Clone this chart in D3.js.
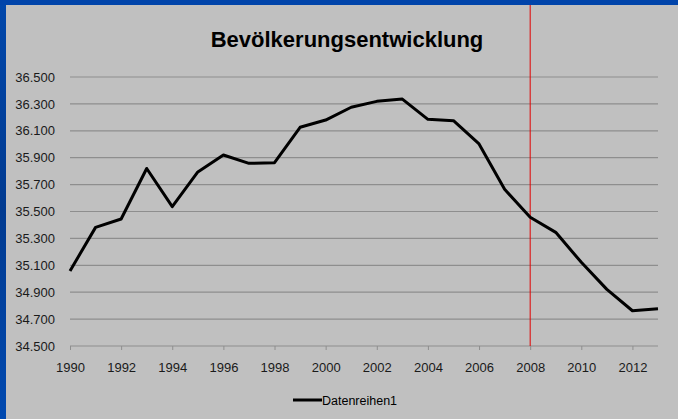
<!DOCTYPE html>
<html><head><meta charset="utf-8">
<script src="https://cdn.jsdelivr.net/npm/d3@7"></script>
<style>html,body{margin:0;padding:0;background:#c0c0c0;}svg{display:block;}</style>
</head><body>
<svg id="chart" width="678" height="419"></svg>
<script>
const years = [1990,1991,1992,1993,1994,1995,1996,1997,1998,1999,2000,2001,2002,2003,2004,2005,2006,2007,2008,2009,2010,2011,2012,2013];
const population = [35.058,35.382,35.444,35.820,35.536,35.794,35.920,35.858,35.863,36.126,36.180,36.275,36.319,36.336,36.185,36.175,36.002,35.665,35.457,35.345,35.122,34.921,34.762,34.777];
const yTicks = [34.5,34.7,34.9,35.1,35.3,35.5,35.7,35.9,36.1,36.3,36.5];
const xTicks = [1990,1992,1994,1996,1998,2000,2002,2004,2006,2008,2010,2012];
const markerYear = 2008;
const title = "Bevölkerungsentwicklung";
const seriesName = "Datenreihen1";

const svg = d3.select("#chart");
const W = 678, H = 419;
const defs = svg.append("defs");
const g = defs.append("linearGradient").attr("id","blue").attr("x1",0).attr("y1",0).attr("x2",0).attr("y2",1);
g.append("stop").attr("offset","0%").attr("stop-color","#0047ab");
g.append("stop").attr("offset","50%").attr("stop-color","#003a90");
g.append("stop").attr("offset","100%").attr("stop-color","#0049b0");

svg.append("rect").attr("width",W).attr("height",H).attr("fill","#c0c0c0");
svg.append("rect").attr("x",0).attr("y",0).attr("width",6).attr("height",H).attr("fill","url(#blue)");
svg.append("rect").attr("x",0).attr("y",0).attr("width",W).attr("height",5).attr("fill","#0044aa");

const x = d3.scaleLinear().domain([1990,2013]).range([70,658]);
const y = d3.scaleLinear().domain([34.5,36.5]).range([346,77]);

// grid
svg.append("g").selectAll("line").data(yTicks.slice(1)).join("line")
  .attr("x1",70).attr("x2",658).attr("y1",d=>y(d)).attr("y2",d=>y(d))
  .attr("stroke","#8e8e8e").attr("stroke-width",1.2);

// x axis
const xAxis = d3.axisBottom(x).tickValues(xTicks).tickFormat(d3.format("d")).tickSize(4).tickPadding(13);
const xa = svg.append("g").attr("transform","translate(0,346)").call(xAxis);
xa.select(".domain").attr("stroke","#8e8e8e").attr("stroke-width",1.2).attr("d","M70,0H658");
xa.selectAll(".tick line").attr("stroke","#8e8e8e");
xa.selectAll(".tick text").attr("font-family","Liberation Sans, Arial, sans-serif").attr("font-size",13).attr("fill","#1a1a1a");

// y axis labels
const yAxis = d3.axisLeft(y).tickValues(yTicks).tickFormat(d=>d3.format(".3f")(d)).tickSize(0).tickPadding(15);
const ya = svg.append("g").attr("transform","translate(70,0)").call(yAxis);
ya.select(".domain").remove();
ya.selectAll(".tick text").attr("font-family","Liberation Sans, Arial, sans-serif").attr("font-size",13).attr("fill","#1a1a1a");

// marker line
svg.append("line").attr("x1",x(markerYear)).attr("x2",x(markerYear)).attr("y1",5).attr("y2",346)
  .attr("stroke","#e00000").attr("stroke-width",1);

// data line
const line = d3.line().x((d,i)=>x(years[i])).y(d=>y(d));
svg.append("path").datum(population).attr("d",line).attr("fill","none")
  .attr("stroke","#000").attr("stroke-width",3).attr("stroke-linejoin","round");

// title
svg.append("text").attr("x",347).attr("y",47).attr("text-anchor","middle")
  .attr("font-family","Liberation Sans, Arial, sans-serif").attr("font-weight","bold").attr("font-size",22)
  .attr("fill","#000").text(title);

// legend
svg.append("line").attr("x1",293).attr("x2",322).attr("y1",400).attr("y2",400).attr("stroke","#000").attr("stroke-width",3);
svg.append("text").attr("x",322).attr("y",404.5).attr("font-family","Liberation Sans, Arial, sans-serif")
  .attr("font-size",12.5).attr("fill","#000").text(seriesName);
</script>
</body></html>
